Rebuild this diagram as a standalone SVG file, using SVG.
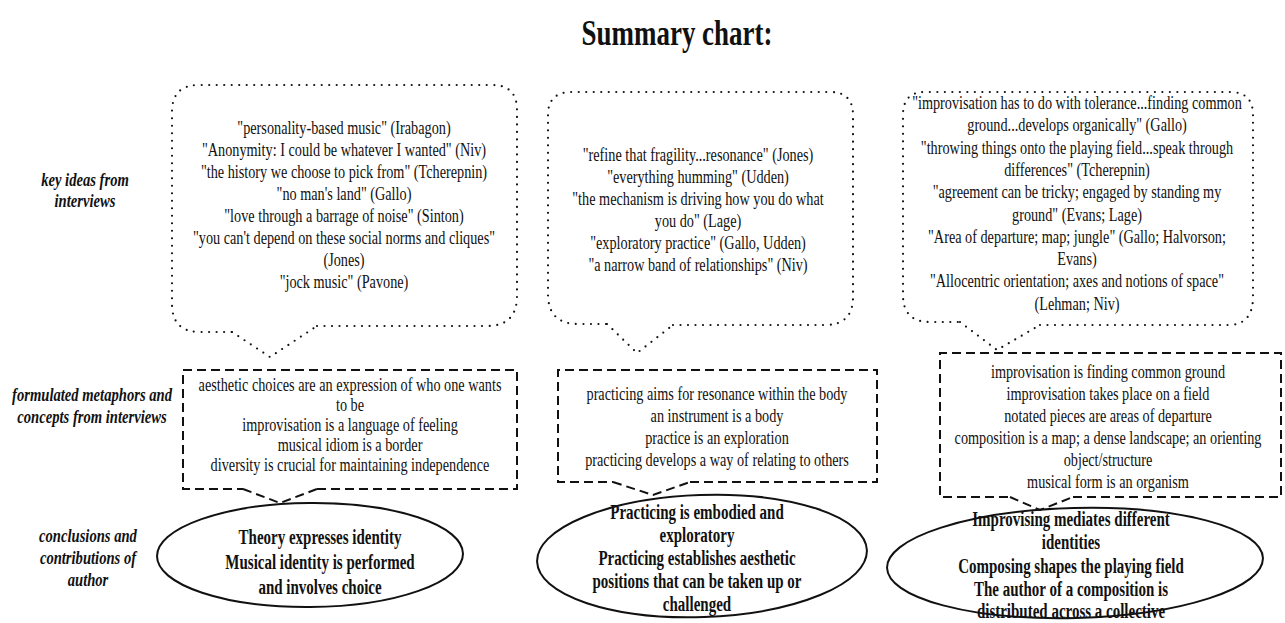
<svg xmlns="http://www.w3.org/2000/svg" width="1285" height="623" viewBox="0 0 1285 623">
<style>
text{font-family:"Liberation Serif","Times New Roman",serif;fill:#111;text-anchor:middle}
.title{font-size:35px;font-weight:bold}
.lab{font-size:19.5px;font-weight:bold;font-style:italic}
.body{font-size:19px}
.concl{font-size:20px;font-weight:bold}
.dot{fill:none;stroke:#111;stroke-width:2.2;stroke-linecap:round;stroke-dasharray:0 7.5}
.dash{fill:none;stroke:#111;stroke-width:2;stroke-dasharray:9 5}
.ell{fill:none;stroke:#111;stroke-width:2}
</style>
<rect width="1285" height="623" fill="#fff"/>
<text class="title" transform="translate(677,0) scale(0.77,1)" x="0" y="45">Summary chart:</text>

<g id="labels">
<text class="lab" transform="translate(85,0) scale(0.75,1)"><tspan x="0" y="186">key ideas from</tspan><tspan x="0" y="207">interviews</tspan></text>
<text class="lab" transform="translate(92,0) scale(0.75,1)"><tspan x="0" y="401">formulated metaphors and</tspan><tspan x="0" y="423">concepts from interviews</tspan></text>
<text class="lab" transform="translate(88,0) scale(0.75,1)"><tspan x="0" y="542">conclusions and</tspan><tspan x="0" y="564">contributions of</tspan><tspan x="0" y="586">author</tspan></text>
</g>

<g id="bubble1">
<path class="dot" d="M317,326 H487 Q517,326 517,296 V110 Q517,85 492,85 H199 Q172,85 172,112 V304 Q172,332 200,332 H232"/>
<text class="body" transform="translate(344,0) scale(0.75,1)"><tspan x="0" y="134">"personality-based music" (Irabagon)</tspan><tspan x="0" y="156">"Anonymity: I could be whatever I wanted" (Niv)</tspan><tspan x="0" y="178">"the history we choose to pick from" (Tcherepnin)</tspan><tspan x="0" y="200">"no man's land" (Gallo)</tspan><tspan x="0" y="222">"love through a barrage of noise" (Sinton)</tspan><tspan x="0" y="244">"you can't depend on these social norms and cliques"</tspan><tspan x="0" y="266">(Jones)</tspan><tspan x="0" y="288">"jock music" (Pavone)</tspan></text>
</g>

<g id="bubble2">
<path class="dot" d="M673,325 H825 Q853,325 853,297 V115 Q853,92 830,92 H572 Q548,92 548,115 V294 Q548,324 578,324 H607"/>
<text class="body" transform="translate(698,0) scale(0.75,1)"><tspan x="0" y="161">"refine that fragility...resonance" (Jones)</tspan><tspan x="0" y="183">"everything humming" (Udden)</tspan><tspan x="0" y="205">"the mechanism is driving how you do what</tspan><tspan x="0" y="227">you do" (Lage)</tspan><tspan x="0" y="249">"exploratory practice" (Gallo, Udden)</tspan><tspan x="0" y="271">"a narrow band of relationships" (Niv)</tspan></text>
</g>

<g id="bubble3">
<path class="dot" d="M1040,325 H1228 Q1253,325 1253,297 V115 Q1253,92 1230,92 H925 Q903,92 903,115 V295 Q903,322 930,322 H960"/>
<text class="body" transform="translate(1077,0) scale(0.75,1)"><tspan x="0" y="109">"improvisation has to do with tolerance...finding common</tspan><tspan x="0" y="131">ground...develops organically" (Gallo)</tspan><tspan x="0" y="154">"throwing things onto the playing field...speak through</tspan><tspan x="0" y="176">differences" (Tcherepnin)</tspan><tspan x="0" y="198">"agreement can be tricky; engaged by standing my</tspan><tspan x="0" y="221">ground" (Evans; Lage)</tspan><tspan x="0" y="243">"Area of departure; map; jungle" (Gallo; Halvorson;</tspan><tspan x="0" y="265">Evans)</tspan><tspan x="0" y="287">"Allocentric orientation; axes and notions of space"</tspan><tspan x="0" y="310">(Lehman; Niv)</tspan></text>
</g>

<g id="box1">
<path class="dash" d="M317,489 H517 V370 H183 V489 H243"/>
<text class="body" transform="translate(350,0) scale(0.75,1)"><tspan x="0" y="391">aesthetic choices are an expression of who one wants</tspan><tspan x="0" y="411">to be</tspan><tspan x="0" y="431">improvisation is a language of feeling</tspan><tspan x="0" y="451">musical idiom is a border</tspan><tspan x="0" y="471">diversity is crucial for maintaining independence</tspan></text>
</g>

<g id="box2">
<path class="dash" d="M690,482 H877 V370 H558 V482 H613"/>
<text class="body" transform="translate(717,0) scale(0.75,1)"><tspan x="0" y="400">practicing aims for resonance within the body</tspan><tspan x="0" y="422">an instrument is a body</tspan><tspan x="0" y="444">practice is an exploration</tspan><tspan x="0" y="466">practicing develops a way of relating to others</tspan></text>
</g>

<g id="box3">
<path class="dash" d="M1073,497 H1281 V353 H940 V497 H1010"/>
<text class="body" transform="translate(1108,0) scale(0.75,1)"><tspan x="0" y="378">improvisation is finding common ground</tspan><tspan x="0" y="400">improvisation takes place on a field</tspan><tspan x="0" y="422">notated pieces are areas of departure</tspan><tspan x="0" y="444">composition is a map; a dense landscape; an orienting</tspan><tspan x="0" y="466">object/structure</tspan><tspan x="0" y="488">musical form is an organism</tspan></text>
</g>

<g id="ellipse1">
<ellipse class="ell" cx="310" cy="555" rx="153" ry="52" transform="rotate(-0.5 310 555)"/>
<text class="concl" transform="translate(320,0) scale(0.75,1)"><tspan x="0" y="544">Theory expresses identity</tspan><tspan x="0" y="569">Musical identity is performed</tspan><tspan x="0" y="594">and involves choice</tspan></text>
</g>

<g id="ellipse2">
<ellipse class="ell" cx="702" cy="556" rx="165" ry="61" transform="rotate(-2 702 556)"/>
<text class="concl" transform="translate(697,0) scale(0.75,1)"><tspan x="0" y="519">Practicing is embodied and</tspan><tspan x="0" y="542">exploratory</tspan><tspan x="0" y="565">Practicing establishes aesthetic</tspan><tspan x="0" y="588">positions that can be taken up or</tspan><tspan x="0" y="611">challenged</tspan></text>
</g>

<g id="ellipse3">
<ellipse class="ell" cx="1075" cy="563" rx="188" ry="55" transform="rotate(-1.5 1075 563)"/>
<text class="concl" transform="translate(1071,0) scale(0.75,1)"><tspan x="0" y="526">Improvising mediates different</tspan><tspan x="0" y="549">identities</tspan><tspan x="0" y="573">Composing shapes the playing field</tspan><tspan x="0" y="596">The author of a composition is</tspan><tspan x="0" y="618">distributed across a collective</tspan></text>
</g>

<g id="connectors">
<path class="dot" d="M232,332 L270,357 L317,326"/>
<path class="dot" d="M607,324 L637,353 L673,325"/>
<path class="dot" d="M960,322 L997,350 L1040,325"/>
<path class="dash" d="M243,489 L280,503 L317,489"/>
<path class="dash" d="M613,482 L653,495 L690,482"/>
<path class="dash" d="M1010,497 L1040,510 L1073,497"/>
</g>
</svg>
